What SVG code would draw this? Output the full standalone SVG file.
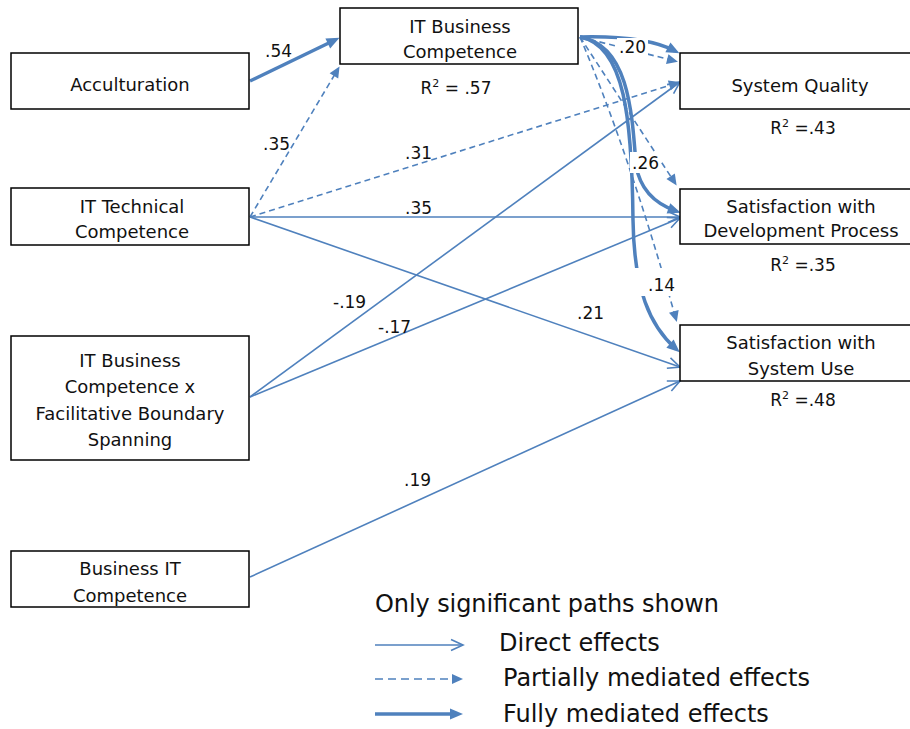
<svg xmlns="http://www.w3.org/2000/svg" width="910" height="729" viewBox="0 0 910 729">
<style>
.box{fill:#fff;stroke:#000;stroke-width:1.5}
.t{font-family:"DejaVu Sans",sans-serif;font-size:18px;fill:#111;text-anchor:middle}
.lbl{font-family:"DejaVu Sans",sans-serif;font-size:17px;fill:#111}
.lg{font-family:"DejaVu Sans",sans-serif;font-size:24px;fill:#111}
.d{fill:none;stroke:#4f81bd;stroke-width:1.6;marker-end:url(#open)}
.p{fill:none;stroke:#4f81bd;stroke-width:1.6;stroke-dasharray:6 4;marker-end:url(#tri)}
.f{fill:none;stroke:#4f81bd;stroke-width:3.5;marker-end:url(#big)}
.mask{fill:#fff}
</style>
<defs>
<marker id="open" markerUnits="userSpaceOnUse" markerWidth="14" markerHeight="12" refX="12" refY="6" orient="auto" overflow="visible"><path d="M0,0.5 L12,6 L0,11.5" fill="none" stroke="#4f81bd" stroke-width="1.6"/></marker>
<marker id="tri" markerUnits="userSpaceOnUse" markerWidth="11" markerHeight="10" refX="8" refY="5" orient="auto" overflow="visible"><path d="M0,0 L11,5 L0,10 z" fill="#4f81bd"/></marker>
<marker id="big" markerUnits="userSpaceOnUse" markerWidth="13" markerHeight="11" refX="8" refY="5.5" orient="auto" overflow="visible"><path d="M0,0 L13,5.5 L0,11 z" fill="#4f81bd"/></marker>
</defs>

<g id="connectors">
<!-- direct effects -->
<path class="d" d="M250,217 L680,217"/>
<path class="d" d="M250,217 L680,367"/>
<path class="d" d="M250,397 L680,82"/>
<path class="d" d="M250,397 L680,218"/>
<path class="d" d="M250,577 L680,381"/>
<!-- partially mediated -->
<path class="p" d="M250,217 L338,69"/>
<path class="p" d="M250,217 L677,83"/>
<path class="p" d="M580,37 L675,61"/>
<path class="p" d="M580,37 L675,183"/>
<path class="p" d="M580,37 Q628,150 676,319"/>
<!-- fully mediated -->
<path class="f" d="M250,81 L335,40"/>
<path class="f" d="M580,37 C620,36 652,39 675,51"/>
<path class="f" d="M580,37 C628,45 632,110 636,165 C640,190 656,204 676,211"/>
<path class="f" d="M580,37 C625,45 632,120 633,220 C634,290 650,326 676,349"/>
<!-- label masks -->
<rect class="mask" x="617" y="38" width="31" height="18"/>
<rect class="mask" x="630" y="152" width="31" height="21"/>
<rect class="mask" x="635" y="268" width="42" height="28"/>
<!-- path coefficients -->
<text class="lbl" x="265" y="57">.54</text>
<text class="lbl" x="263" y="150">.35</text>
<text class="lbl" x="405" y="159">.31</text>
<text class="lbl" x="405" y="214">.35</text>
<text class="lbl" x="333" y="308">-.19</text>
<text class="lbl" x="378" y="333">-.17</text>
<text class="lbl" x="577" y="319">.21</text>
<text class="lbl" x="404" y="486">.19</text>
<text class="lbl" x="619" y="53">.20</text>
<text class="lbl" x="632" y="169">.26</text>
<text class="lbl" x="648" y="291">.14</text>
</g>

<g id="acculturation">
<rect class="box" x="11" y="53" width="238" height="56"/>
<text class="t" x="130" y="91">Acculturation</text>
</g>
<g id="it-business-competence">
<rect class="box" x="340" y="8" width="238" height="56"/>
<text class="t" x="460" y="33">IT Business</text>
<text class="t" x="460" y="58">Competence</text>
<text class="t" x="456" y="94" style="font-size:17px">R<tspan dy="-7" style="font-size:11px">2</tspan><tspan dy="7"> = .57</tspan></text>
</g>
<g id="it-technical-competence">
<rect class="box" x="11" y="188" width="238" height="57"/>
<text class="t" x="132" y="213">IT Technical</text>
<text class="t" x="132" y="238">Competence</text>
</g>
<g id="itbc-x-fbs">
<rect class="box" x="11" y="336" width="238" height="124"/>
<text class="t" x="130" y="367">IT Business</text>
<text class="t" x="130" y="393">Competence x</text>
<text class="t" x="130" y="420">Facilitative Boundary</text>
<text class="t" x="130" y="446">Spanning</text>
</g>
<g id="business-it-competence">
<rect class="box" x="11" y="551" width="238" height="56"/>
<text class="t" x="130" y="575">Business IT</text>
<text class="t" x="130" y="602">Competence</text>
</g>
<g id="system-quality">
<rect class="box" x="680" y="53" width="240" height="56"/>
<text class="t" x="800" y="92">System Quality</text>
<text class="t" x="803" y="134" style="font-size:17px">R<tspan dy="-7" style="font-size:11px">2</tspan><tspan dy="7"> =.43</tspan></text>
</g>
<g id="satisfaction-development">
<rect class="box" x="680" y="189" width="240" height="55"/>
<text class="t" x="801" y="213">Satisfaction with</text>
<text class="t" x="801" y="237">Development Process</text>
<text class="t" x="803" y="271" style="font-size:17px">R<tspan dy="-7" style="font-size:11px">2</tspan><tspan dy="7"> =.35</tspan></text>
</g>
<g id="satisfaction-system-use">
<rect class="box" x="680" y="325" width="240" height="56"/>
<text class="t" x="801" y="349">Satisfaction with</text>
<text class="t" x="801" y="375">System Use</text>
<text class="t" x="803" y="406" style="font-size:17px">R<tspan dy="-7" style="font-size:11px">2</tspan><tspan dy="7"> =.48</tspan></text>
</g>

<g id="legend">
<text class="lg" x="375" y="612" textLength="344">Only significant paths shown</text>
<path class="d" d="M375,645 L463,645"/>
<text class="lg" x="499" y="651">Direct effects</text>
<path class="p" d="M375,679 L460,679" style="stroke-dasharray:8 5"/>
<text class="lg" x="503" y="686">Partially mediated effects</text>
<path class="f" d="M375,714 L458,714"/>
<text class="lg" x="503" y="722">Fully mediated effects</text>
</g>
</svg>
